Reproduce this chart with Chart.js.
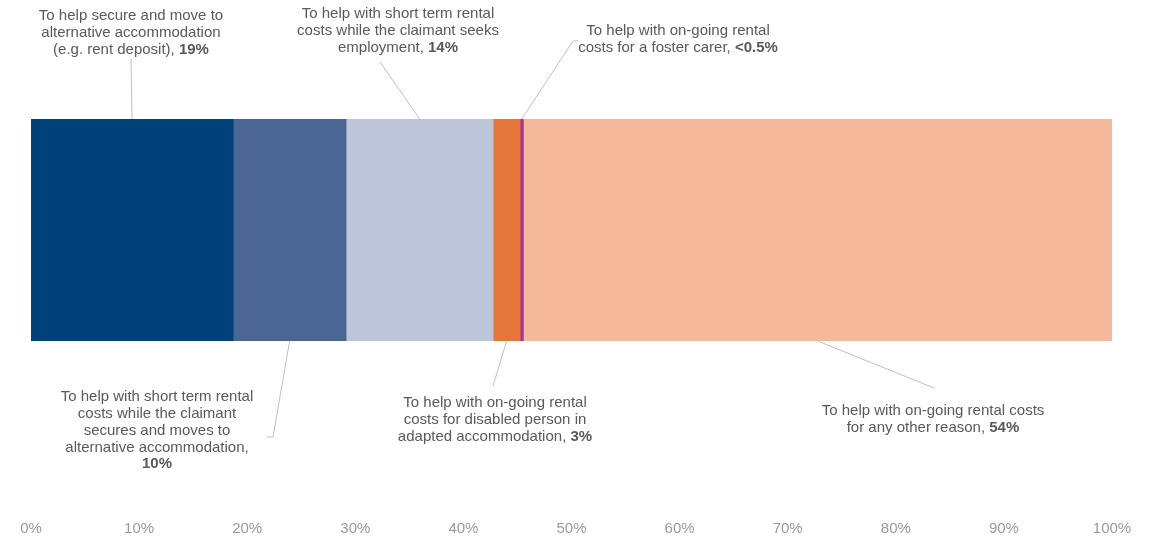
<!DOCTYPE html>
<html>
<head>
<meta charset="utf-8">
<script src="https://cdn.jsdelivr.net/npm/chart.js@4"></script>
<style>
  body { margin: 0; background: #fff; }
</style>
</head>
<body>
<canvas id="myChart" width="1160" height="538"></canvas>
<script>
// reasons for the award, each label split into its printed lines
const reasons = [
    ['To help secure and move to', 'alternative accommodation', '(e.g. rent deposit), '],
    ['To help with short term rental', 'costs while the claimant', 'secures and moves to', 'alternative accommodation,', ''],
    ['To help with short term rental', 'costs while the claimant seeks', 'employment, '],
    ['To help with on-going rental', 'costs for disabled person in', 'adapted accommodation, '],
    ['To help with on-going rental', 'costs for a foster carer, '],
    ['To help with on-going rental costs', 'for any other reason, ']
];
// share of awards, percent
const shares = [18.7, 10.45, 13.6, 2.5, 0.3, 54.45];
const colours = ['#00417A', '#4A6694', '#BDC6D9', '#E6763A', '#A3369E', '#F4B99B'];
const xTicks = [0, 10, 20, 30, 40, 50, 60, 70, 80, 90, 100];

// where each callout's text sits and the bends of its leader line
const calloutLayout = [
    { side: 'top', cx: 131, cy: 16, path: [[131, 59]] },
    { side: 'bottom', cx: 157, cy: 397, path: [[273, 437], [267, 437]] },
    { side: 'top', cx: 398, cy: 14, path: [[380, 62]] },
    { side: 'bottom', cx: 495, cy: 403, path: [[493, 386]] },
    { side: 'top', cx: 678, cy: 31, path: [[573, 41], [578, 41]] },
    { side: 'bottom', cx: 933, cy: 411, path: [[934, 388]] }
];

const FONT = '"Liberation Sans", Arial, sans-serif';

function pctText(v) {
    return v < 0.5 ? '<0.5%' : Math.round(v) + '%';
}

const callouts = {
    id: 'callouts',
    afterDatasetsDraw(chart) {
        const ctx = chart.ctx;
        ctx.save();
        calloutLayout.forEach((c, i) => {
            const bar = chart.getDatasetMeta(i).data[0];
            const x0 = (bar.x + bar.base) / 2;
            const y0 = c.side === 'top' ? bar.y - bar.height / 2 : bar.y + bar.height / 2;
            ctx.strokeStyle = '#BFBFBF';
            ctx.lineWidth = 1;
            ctx.beginPath();
            ctx.moveTo(x0, y0);
            c.path.forEach(p => ctx.lineTo(p[0], p[1]));
            ctx.stroke();

            const lines = reasons[i];
            ctx.fillStyle = '#595959';
            ctx.textBaseline = 'middle';
            ctx.textAlign = 'left';
            lines.forEach((line, j) => {
                const y = c.cy + j * 16.8;
                const last = j === lines.length - 1;
                ctx.font = '15px ' + FONT;
                const w1 = ctx.measureText(line).width;
                let w2 = 0;
                const val = last ? pctText(shares[i]) : '';
                if (last) {
                    ctx.font = 'bold 15px ' + FONT;
                    w2 = ctx.measureText(val).width;
                }
                const left = c.cx - (w1 + w2) / 2;
                ctx.font = '15px ' + FONT;
                ctx.fillText(line, left, y);
                if (last) {
                    ctx.font = 'bold 15px ' + FONT;
                    ctx.fillText(val, left + w1, y);
                }
            });
        });
        ctx.restore();
    }
};

const ctx = document.getElementById('myChart').getContext('2d');
const myChart = new Chart(ctx, {
    type: 'bar',
    data: {
        labels: [''],
        datasets: shares.map((v, i) => ({
            label: reasons[i].join(' ').trim(),
            data: [v],
            backgroundColor: colours[i],
            borderWidth: 0,
            barPercentage: 1,
            categoryPercentage: 1
        }))
    },
    options: {
        indexAxis: 'y',
        responsive: false,
        animation: false,
        layout: { padding: { top: 119, left: 31, right: 48, bottom: -25 } },
        plugins: {
            legend: { display: false },
            tooltip: { enabled: false }
        },
        scales: {
            y: { stacked: true, display: false },
            x: {
                stacked: true,
                min: 0,
                max: 100,
                afterBuildTicks: axis => { axis.ticks = xTicks.map(v => ({ value: v })); },
                // the big tick padding only pushes labels down, not sideways
                afterFit: axis => { axis.paddingLeft = 0; axis.paddingRight = 0; },
                grid: { display: false, drawTicks: false },
                border: { display: false },
                ticks: {
                    padding: 179,
                    color: '#9A9A9A',
                    font: { family: FONT, size: 15 },
                    maxRotation: 0,
                    callback: v => v + '%'
                }
            }
        }
    },
    plugins: [callouts]
});
</script>
</body>
</html>
